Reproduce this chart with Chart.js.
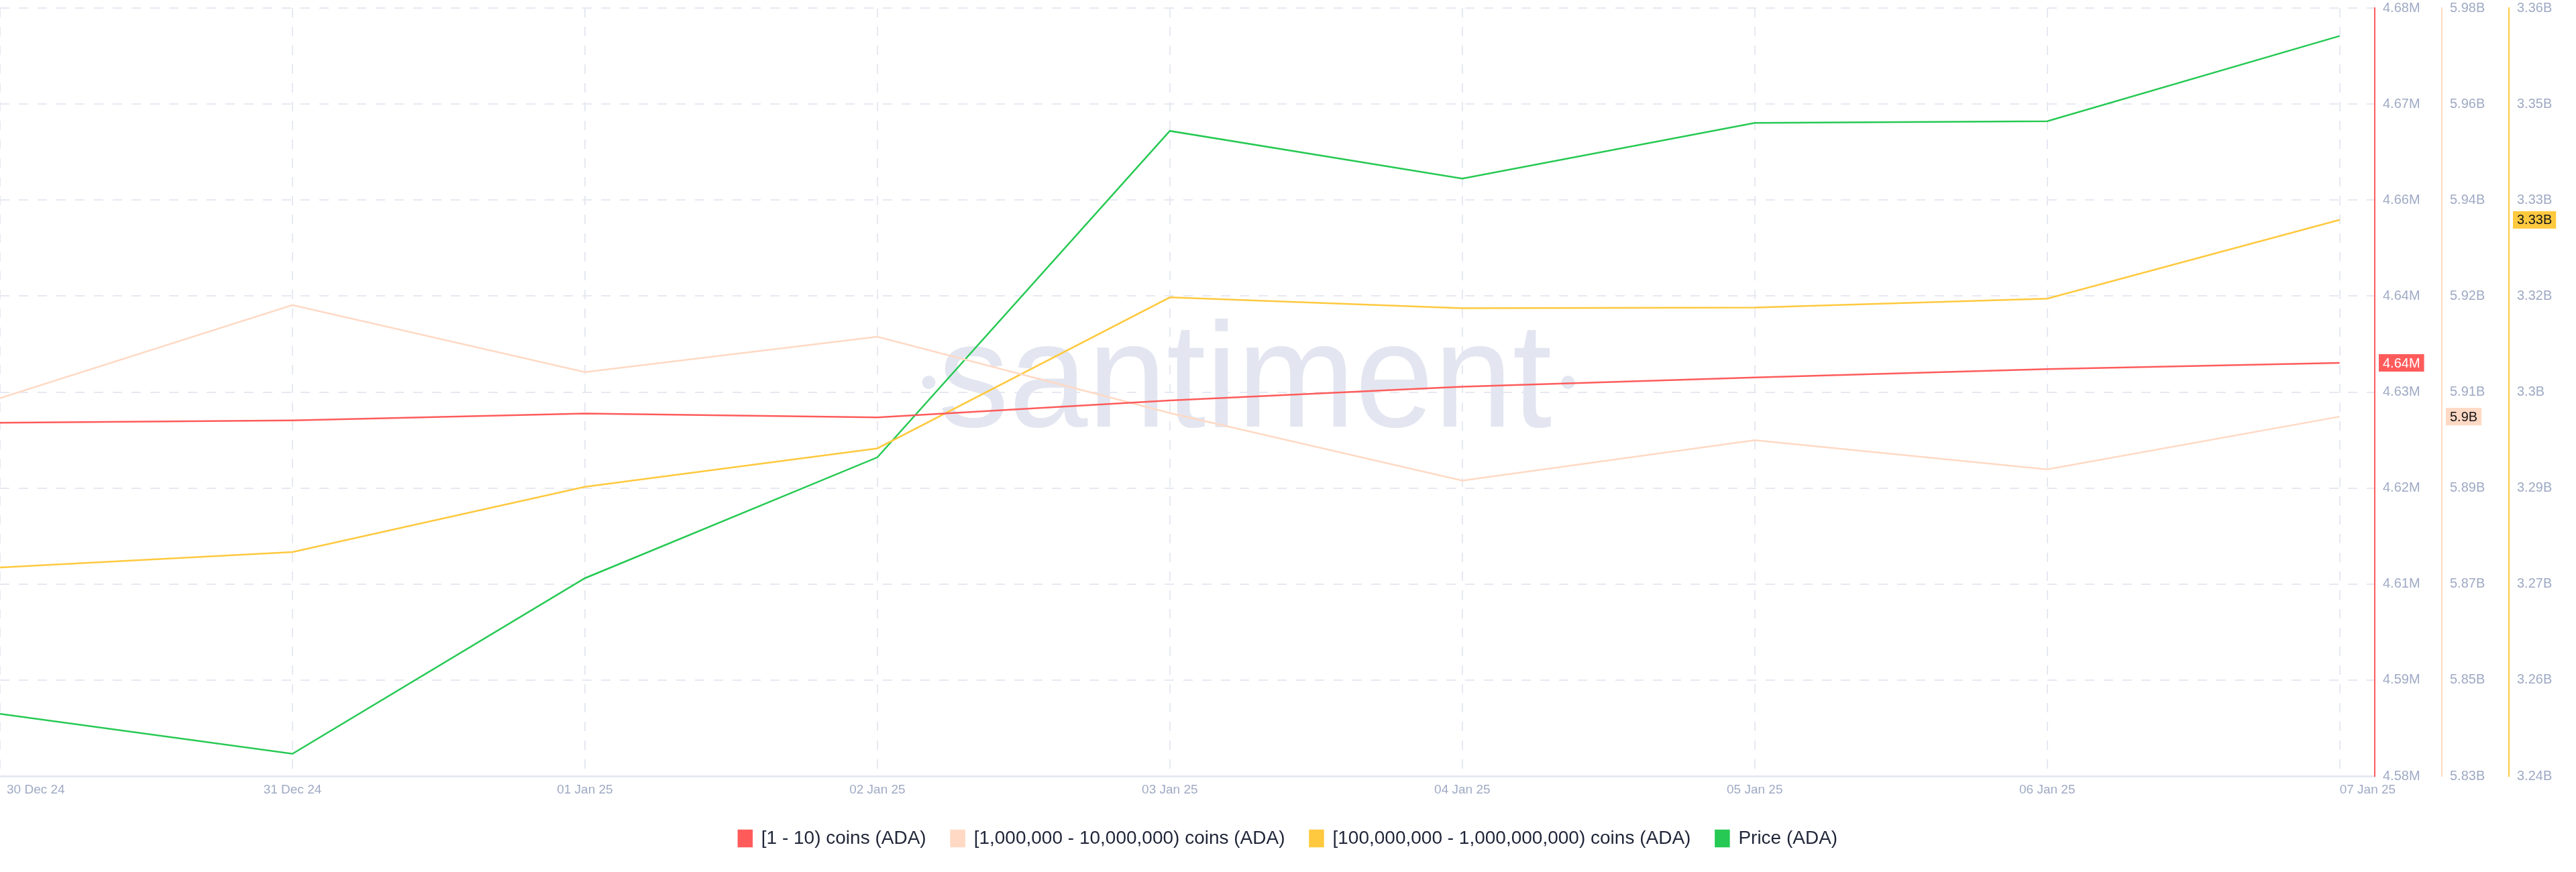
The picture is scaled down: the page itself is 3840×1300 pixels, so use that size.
<!DOCTYPE html>
<html>
<head>
<meta charset="utf-8">
<script src="https://cdn.jsdelivr.net/npm/chart.js@4.4.1/dist/chart.umd.min.js"></script>
<style>
  html, body { margin: 0; padding: 0; background: #ffffff; }
  #wrap { width: 3840px; height: 1300px; position: relative; }
</style>
</head>
<body>
<div id="wrap"><canvas id="c" width="3840" height="1300"></canvas></div>
<script>
// ---------- data ----------
const categories = ['30 Dec 24', '31 Dec 24', '01 Jan 25', '02 Jan 25', '03 Jan 25', '04 Jan 25', '05 Jan 25', '06 Jan 25', '07 Jan 25'];
const seriesNames = ['[1 - 10) coins (ADA)', '[1,000,000 - 10,000,000) coins (ADA)', '[100,000,000 - 1,000,000,000) coins (ADA)', 'Price (ADA)'];
const holders1to10 = [4626000, 4626300, 4627200, 4626700, 4628900, 4630700, 4631900, 4633000, 4633800];
const holders1Mto10M = [5903800000, 5922000000, 5908900000, 5915800000, 5900900000, 5887700000, 5895600000, 5889900000, 5900200000];
const holders100Mto1B = [3272600000, 3275000000, 3285200000, 3291200000, 3314800000, 3313100000, 3313200000, 3314600000, 3326900000];
const priceADA = [0.8443, 0.8287, 0.8973, 0.9445, 1.0720, 1.0534, 1.0751, 1.0758, 1.1091];
// axis ranges (tick labels are evenly spaced between these, 9 ticks each)
const rangeHolders1to10 = [4580000, 4680000];
const rangeHolders1Mto10M = [5830000000, 5980000000];
const rangeHolders100Mto1B = [3240000000, 3360000000];
const rangePrice = [0.82, 1.12];
// last-value badges shown on the right axes
const lastValueLabels = ['4.64M', '5.9B', '3.33B'];
const watermarkText = 'santiment';

// ---------- styles ----------
const COLORS = ['#ff5b5b', '#ffd9c4', '#ffc93f', '#26c953'];
const BADGE_TEXT = ['#ffffff', '#15171a', '#15171a'];
const TICK_COLOR = '#9faac4';
const GRID_COLOR = '#e6e9f2';
const FONT = '"Liberation Sans", Arial, Helvetica, sans-serif';

function fmtM(v) { return (Math.round(v / 1e4 + 1e-9) / 100) + 'M'; }
function fmtB(v) { return (Math.round(v / 1e7 + 1e-9) / 100) + 'B'; }

function rightAxis(range, color, weight, fmt, drawGrid) {
  return {
    type: 'linear',
    position: 'right',
    weight: weight,
    min: range[0],
    max: range[1],
    afterFit: (s) => { s.width = 100; },
    ticks: {
      count: 9,
      color: TICK_COLOR,
      font: { family: FONT, size: 20 },
      padding: 0,
      callback: (v) => fmt(v)
    },
    grid: { drawOnChartArea: drawGrid, drawTicks: true, tickLength: 12, tickColor: 'rgba(0,0,0,0)', color: GRID_COLOR, lineWidth: 2 },
    border: { display: true, color: color, width: 2, dash: [14, 14] }
  };
}

const watermarkPlugin = {
  id: 'watermark',
  beforeDatasetsDraw(chart) {
    const ctx = chart.ctx;
    ctx.save();
    ctx.font = '222px ' + FONT;
    const w = ctx.measureText(watermarkText).width;
    const targetW = 915;
    const sx = targetW / w;
    const cx = 1856, base = 636;
    ctx.fillStyle = '#e3e6f0';
    ctx.save();
    ctx.translate(cx, base);
    ctx.scale(sx, 1);
    ctx.textAlign = 'center';
    ctx.textBaseline = 'alphabetic';
    ctx.fillText(watermarkText, 0, 0);
    ctx.restore();
    const dotY = base - 66;
    [cx - targetW / 2 - 14, cx + targetW / 2 + 24].forEach(dx => {
      ctx.beginPath();
      ctx.arc(dx, dotY, 10, 0, Math.PI * 2);
      ctx.fill();
    });
    ctx.restore();
  }
};

const xLabelsPlugin = {
  id: 'xLabels',
  afterDraw(chart) {
    const ctx = chart.ctx;
    const xs = chart.scales.x;
    const y = chart.chartArea.bottom + 21;
    ctx.save();
    ctx.font = '19px ' + FONT;
    ctx.fillStyle = TICK_COLOR;
    ctx.textBaseline = 'middle';
    categories.forEach((lab, i) => {
      const px = xs.getPixelForValue(i);
      if (i === 0) { ctx.textAlign = 'left'; ctx.fillText(lab, px + 10, y); }
      else if (i === categories.length - 1) { ctx.textAlign = 'left'; ctx.fillText(lab, px, y); }
      else { ctx.textAlign = 'center'; ctx.fillText(lab, px, y); }
    });
    ctx.restore();
  }
};

const badgePlugin = {
  id: 'badges',
  afterDraw(chart) {
    const ctx = chart.ctx;
    const ids = ['yA', 'yB', 'yC'];
    ctx.save();
    ctx.font = '20px ' + FONT;
    ctx.textBaseline = 'middle';
    ctx.textAlign = 'left';
    ids.forEach((id, k) => {
      const sc = chart.scales[id];
      const data = chart.data.datasets[k].data;
      const v = data[data.length - 1].y;
      const y = sc.getPixelForValue(v);
      const label = lastValueLabels[k];
      const tw = ctx.measureText(label).width;
      const x0 = sc.left + 6;
      ctx.fillStyle = COLORS[k];
      ctx.fillRect(x0, y - 13, tw + 12, 26);
      ctx.fillStyle = BADGE_TEXT[k];
      ctx.fillText(label, x0 + 6, y + 1);
    });
    ctx.restore();
  }
};

const xIndex = categories.map((_, i) => i);
function pts(arr) { return arr.map((v, i) => ({ x: xIndex[i], y: v })); }

const datasets = [
  { label: seriesNames[0], data: pts(holders1to10), yAxisID: 'yA', borderColor: COLORS[0], backgroundColor: COLORS[0] },
  { label: seriesNames[1], data: pts(holders1Mto10M), yAxisID: 'yB', borderColor: COLORS[1], backgroundColor: COLORS[1] },
  { label: seriesNames[2], data: pts(holders100Mto1B), yAxisID: 'yC', borderColor: COLORS[2], backgroundColor: COLORS[2] },
  { label: seriesNames[3], data: pts(priceADA), yAxisID: 'yP', borderColor: COLORS[3], backgroundColor: COLORS[3] }
].map(d => Object.assign(d, { borderWidth: 2.5, pointRadius: 0, tension: 0, fill: false }));

new Chart(document.getElementById('c'), {
  type: 'line',
  data: { datasets },
  plugins: [watermarkPlugin, xLabelsPlugin, badgePlugin],
  options: {
    responsive: false,
    animation: false,
    devicePixelRatio: 1,
    layout: { padding: { top: 0, left: 0, right: 0, bottom: 26 } },
    plugins: {
      tooltip: { enabled: false },
      legend: {
        position: 'bottom',
        labels: {
          color: '#1f2538',
          font: { family: FONT, size: 28 },
          boxWidth: 20,
          boxHeight: 24,
          padding: 37
        }
      }
    },
    scales: {
      x: {
        type: 'linear',
        min: 0,
        max: 8.12,
        afterFit: (s) => { s.height = 42; },
        ticks: { display: false, stepSize: 1, includeBounds: false },
        grid: { color: GRID_COLOR, lineWidth: 2, drawTicks: false },
        border: { display: true, color: GRID_COLOR, width: 3, dash: [14, 14] }
      },
      yA: rightAxis(rangeHolders1to10, COLORS[0], 1, fmtM, true),
      yB: rightAxis(rangeHolders1Mto10M, COLORS[1], 2, fmtB, false),
      yC: rightAxis(rangeHolders100Mto1B, COLORS[2], 3, fmtB, false),
      yP: { type: 'linear', display: false, min: rangePrice[0], max: rangePrice[1] }
    }
  }
});
</script>
</body>
</html>
